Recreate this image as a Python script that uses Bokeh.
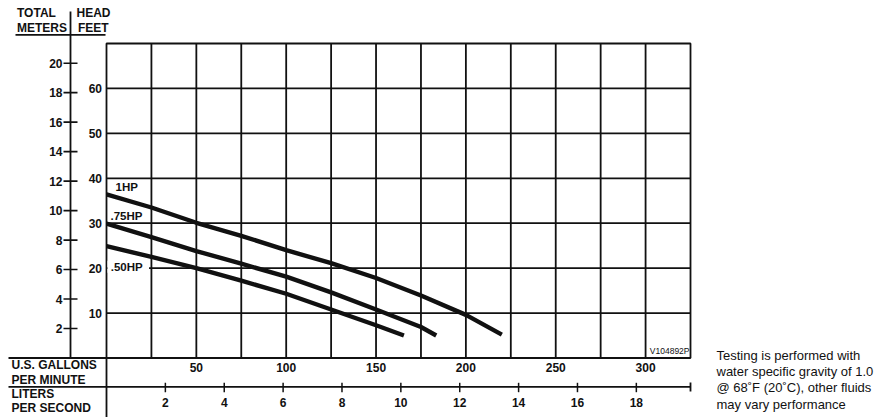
from bokeh.plotting import figure
from bokeh.models import Range1d
from bokeh.core.properties import value
from bokeh.embed import file_html
from bokeh.resources import INLINE

# ---------------- data ----------------
gpm_1hp = [0, 25, 50, 75, 100, 125, 150, 175, 200, 220]
ft_1hp = [36.4, 33.5, 30.1, 27.2, 24.0, 21.1, 17.8, 13.9, 9.6, 5.2]

gpm_75hp = [0, 25, 50, 75, 100, 125, 150, 175, 183.5]
ft_75hp = [29.9, 26.9, 23.8, 21.0, 18.1, 14.6, 10.8, 6.9, 5.0]

gpm_50hp = [0, 25, 50, 75, 100, 125, 150, 165.5]
ft_50hp = [24.9, 22.5, 20.0, 17.2, 14.3, 10.8, 7.3, 5.0]

series_names = ["1HP", ".75HP", ".50HP"]

gpm_grid = [25, 50, 75, 100, 125, 150, 175, 200, 225, 250, 275, 300]
gpm_ticks = [50, 100, 150, 200, 250, 300]
lps_ticks = [2, 4, 6, 8, 10, 12, 14, 16, 18]
ft_ticks = [10, 20, 30, 40, 50, 60]
m_ticks = [2, 4, 6, 8, 10, 12, 14, 16, 18, 20]

gpm_max = 325          # right edge of chart
ft_max = 70            # top edge of chart
lps_max = 19.84        # liters/second at the right edge (as drawn)
m_to_ft = 3.28084

header_left = ["TOTAL", "METERS"]
header_right = ["HEAD", "FEET"]
row_gpm = ["U.S. GALLONS", "PER MINUTE"]
row_lps = ["LITERS", "PER SECOND"]
note_lines = ["Testing is performed with",
              "water specific gravity of 1.0",
              "@ 68\u02daF (20\u02daC), other fluids",
              "may vary performance"]
code_text = "V104892P"

# ---------------- layout ----------------
W, H = 880, 417
X0_PX, X1_PX = 106.0, 690.0      # pixel columns of 0 and gpm_max
Y0_PX, Y1_PX = 357.5, 43.0       # pixel rows of 0 and ft_max
PX_GPM = (X1_PX - X0_PX) / gpm_max
PX_FT = (Y0_PX - Y1_PX) / ft_max
LPS_TO_GPM = gpm_max / lps_max


def gx(px):
    return (px - X0_PX) / PX_GPM


def fy(py):
    return (Y0_PX - py) / PX_FT


FONT = value("Liberation Sans")
INK = "#111111"
LW = 1.8

p = figure(width=W, height=H, x_range=Range1d(gx(0), gx(W)), y_range=Range1d(fy(H), fy(0)),
           output_backend="svg", toolbar_location=None,
           x_axis_location=None, y_axis_location=None, min_border=0)
p.grid.visible = False
p.outline_line_color = None
p.background_fill_color = "white"
p.border_fill_color = "white"

# ---- grid and frame ----
p.segment(x0=gpm_grid, y0=[0] * len(gpm_grid), x1=gpm_grid, y1=[ft_max] * len(gpm_grid),
          line_color=INK, line_width=LW)
p.segment(x0=[0] * len(ft_ticks), y0=ft_ticks, x1=[gpm_max] * len(ft_ticks), y1=ft_ticks,
          line_color=INK, line_width=LW)
p.quad(left=[0], right=[gpm_max], bottom=[0], top=[ft_max], fill_color=None,
       line_color=INK, line_width=LW)

# ---- curves ----
for xs, ys in ((gpm_1hp, ft_1hp), (gpm_75hp, ft_75hp), (gpm_50hp, ft_50hp)):
    p.line(xs, ys, line_width=4.4, line_color=INK, line_cap="butt", line_join="round")

# ---- series labels ----
p.text(x=[gx(115), gx(110)], y=[fy(186.7), fy(215.0)], text=series_names[:2],
       text_font=FONT, text_font_style="bold", text_font_size="11.5px",
       text_color=INK, text_align="left", text_baseline="middle")
p.text(x=[gx(107)], y=[fy(266.3)], text=["\u00a0" + series_names[2] + "\u00a0\u00a0"],
       text_font=FONT, text_font_style="bold", text_font_size="11.5px",
       text_color=INK, text_align="left", text_baseline="middle",
       background_fill_color="white", background_fill_alpha=1.0)

# ---- feet labels ----
p.text(x=[gx(101.5)] * len(ft_ticks), y=ft_ticks, text=[str(v) for v in ft_ticks],
       text_font=FONT, text_font_style="bold", text_font_size="12px",
       text_color=INK, text_align="right", text_baseline="middle")

# ---- meters axis ----
m_ft = [m * m_to_ft for m in m_ticks]
p.segment(x0=[gx(70)], y0=[fy(11)], x1=[gx(70)], y1=[0], line_color=INK, line_width=LW)
p.segment(x0=[gx(63)] * len(m_ft), y0=m_ft, x1=[gx(77)] * len(m_ft), y1=m_ft,
          line_color=INK, line_width=1.6)
p.text(x=[gx(62)] * len(m_ft), y=m_ft, text=[str(v) for v in m_ticks],
       text_font=FONT, text_font_style="bold", text_font_size="12px",
       text_color=INK, text_align="right", text_baseline="middle")

# ---- header ----
p.text(x=[gx(16.5), gx(16.5), gx(76.0), gx(77.5)],
       y=[fy(12.5), fy(27.0), fy(12.5), fy(27.0)],
       text=[header_left[0], header_left[1], header_right[0], header_right[1]],
       text_font=FONT, text_font_style="bold", text_font_size="12px",
       text_color=INK, text_align="left", text_baseline="middle")
p.segment(x0=[gx(15)], y0=[fy(34.3)], x1=[gx(105)], y1=[fy(34.3)], line_color=INK, line_width=LW)

# ---- bottom rows ----
y_ls = fy(386.3)
p.segment(x0=[gx(8), gx(8), 0, gpm_max], y0=[0, y_ls, 0, fy(382)],
          x1=[0, gpm_max, 0, gpm_max], y1=[0, y_ls, fy(417), fy(391)],
          line_color=INK, line_width=LW)
p.text(x=gpm_ticks, y=[fy(367)] * len(gpm_ticks), text=[str(v) for v in gpm_ticks],
       text_font=FONT, text_font_style="bold", text_font_size="12px",
       text_color=INK, text_align="center", text_baseline="middle")
lps_x = [v * LPS_TO_GPM for v in lps_ticks]
p.segment(x0=lps_x, y0=[fy(382.3)] * len(lps_x), x1=lps_x, y1=[fy(391.7)] * len(lps_x),
          line_color=INK, line_width=1.5)
p.text(x=lps_x, y=[fy(401.7)] * len(lps_x), text=[str(v) for v in lps_ticks],
       text_font=FONT, text_font_style="bold", text_font_size="12px",
       text_color=INK, text_align="center", text_baseline="middle")
p.text(x=[gx(11)] * 4, y=[fy(364.3), fy(379.3), fy(393.0), fy(407.0)],
       text=row_gpm + row_lps,
       text_font=FONT, text_font_style="bold", text_font_size="12px",
       text_color=INK, text_align="left", text_baseline="middle")

# ---- note and code ----
p.text(x=[gx(716)] * len(note_lines), y=[fy(355.0 + 16.2 * k) for k in range(len(note_lines))],
       text=note_lines, text_font=FONT, text_font_size="13px",
       text_color=INK, text_align="left", text_baseline="middle")
p.text(x=[gx(689.0)], y=[fy(350.5)], text=[code_text], text_font=FONT,
       text_font_size="8.5px", text_color=INK, text_align="right", text_baseline="middle")

open("out.html", "w").write(file_html(p, INLINE))
